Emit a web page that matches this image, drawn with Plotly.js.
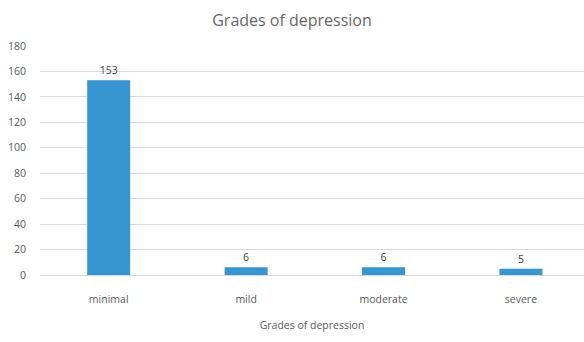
<!DOCTYPE html>
<html>
<head>
<meta charset="utf-8">
<script src="https://cdn.plot.ly/plotly-3.0.1.min.js"></script>
<style>html,body{margin:0;padding:0;background:#fff;}#chart{width:584px;height:342px;}</style>
</head>
<body>
<div id="chart"></div>
<script>
const categories = ["minimal", "mild", "moderate", "severe"];
const counts = [153, 6, 6, 5];
const yTicks = [0, 20, 40, 60, 80, 100, 120, 140, 160, 180];

const trace = {
  type: "bar",
  x: categories,
  y: counts,
  width: 0.313,
  marker: {color: "#3795cf"},
  text: counts.map(String),
  textposition: "outside",
  cliponaxis: false,
  textfont: {family: "Open Sans, sans-serif", size: 10.5, color: "#404040"},
  hoverinfo: "none"
};

const layout = {
  width: 584, height: 342,
  margin: {l: 40, r: 0, t: 46, b: 67},
  paper_bgcolor: "#ffffff", plot_bgcolor: "#ffffff",
  showlegend: false,
  font: {family: "Open Sans, sans-serif", color: "#595959"},
  title: {text: "Grades of depression", x: 0.5, xanchor: "center", y: 0.94, yanchor: "middle",
          font: {size: 16, color: "#666666", family: "Open Sans, sans-serif"}},
  xaxis: {
    type: "category",
    range: [-0.5, 3.459],
    showgrid: false, zeroline: false, showline: false,
    ticks: "outside", ticklen: 14, tickcolor: "rgba(0,0,0,0)",
    tickfont: {size: 10.5, color: "#595959"},
    title: {text: "Grades of depression", standoff: 17, font: {size: 10.5, color: "#595959"}}
  },
  yaxis: {
    range: [0, 180],
    tickvals: yTicks,
    ticktext: yTicks.map(String),
    showgrid: true, gridcolor: "#d9d9d9", gridwidth: 1,
    zeroline: true, zerolinecolor: "#d9d9d9", zerolinewidth: 1,
    showline: false,
    ticks: "outside", ticklen: 11, tickcolor: "rgba(0,0,0,0)",
    tickfont: {size: 10.5, color: "#595959"}
  }
};

Plotly.newPlot("chart", [trace], layout, {displayModeBar: false, staticPlot: true});
</script>
</body>
</html>
